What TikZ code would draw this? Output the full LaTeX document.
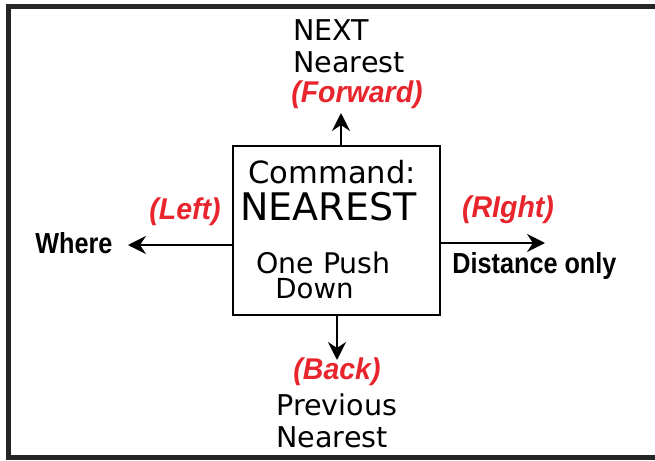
\documentclass[tikz,border=0pt]{standalone}
\usepackage{fontspec}
\setmainfont{DejaVu Sans}
\newfontfamily\labelfont[FakeStretch=0.95]{Liberation Sans}
\newfontfamily\sidefont[FakeStretch=0.87]{Liberation Sans}
\usetikzlibrary{arrows.meta}
\definecolor{dirred}{RGB}{232,36,44}
\definecolor{framegray}{RGB}{38,38,38}
\tikzset{
	dirtext/.style={inner sep=0pt,anchor=base,text=dirred,font=\labelfont\bfseries\itshape\fontsize{15}{17}\selectfont},
	sidetext/.style={inner sep=0pt,anchor=base west,font=\sidefont\bfseries\fontsize{14.5}{16}\selectfont},
	plaintext/.style={inner sep=0pt,anchor=base west,font=\fontsize{14.3}{16}\selectfont},
}
\begin{document}
\begin{tikzpicture}[>={Stealth[length=9pt,width=9pt,inset=3pt]},x=0.5pt,y=-0.5pt]
		\useasboundingbox (0,0) rectangle (655,461);
		\clip (0,0) rectangle (655,461);
		\draw[line width=2.5pt,framegray] (700,6.5) -- (8.5,6.5) -- (8.5,457.5) -- (700,457.5);
		% command box
		\node[draw,line width=1pt,minimum width=103.5pt,minimum height=84.5pt,inner sep=0pt] (cmdbox) at (336.5,230.5) {};
		\node[plaintext,font=\fontsize{15.3}{16}\selectfont] (cmdtitle) at (248,183) {Command:};
		\node[plaintext,font=\fontsize{19}{20}\selectfont] (cmdname) at (240,220) {NEAREST};
		\node[plaintext,font=\fontsize{14.2}{16}\selectfont] (onepush) at (256,273) {One Push};
		\node[plaintext,font=\fontsize{13.8}{16}\selectfont] (down) at (275,298) {Down};
		% arrows
		\coordinate (uptip) at (341,113);
		\coordinate (downtip) at (337,360);
		\coordinate (lefttip) at (128,245);
		\coordinate (righttip) at (545,243);
		\draw[->,line width=1pt] (cmdbox.north -| uptip) -- (uptip);
		\draw[->,line width=1pt] (cmdbox.south -| downtip) -- (downtip);
		\draw[->,line width=1pt] (cmdbox.west |- lefttip) -- (lefttip);
		\draw[->,line width=1pt] (cmdbox.east |- righttip) -- (righttip);
		% labels
		\node[plaintext] (next) at (293,40) {NEXT};
		\node[plaintext] (nextnear) at (293,72) {Nearest};
		\node[dirtext] (forward) at (357,102) {(Forward)};
		\node[dirtext] (left) at (185,219) {(Left)};
		\node[sidetext] (where) at (35,253) {Where};
		\node[dirtext] (right) at (508,217) {(RIght)};
		\node[sidetext] (distance) at (452,273) {Distance only};
		\node[dirtext] (back) at (337,379) {(Back)};
		\node[plaintext] (previous) at (276,415) {Previous};
		\node[plaintext] (prevnear) at (276,447) {Nearest};
\end{tikzpicture}
\end{document}
